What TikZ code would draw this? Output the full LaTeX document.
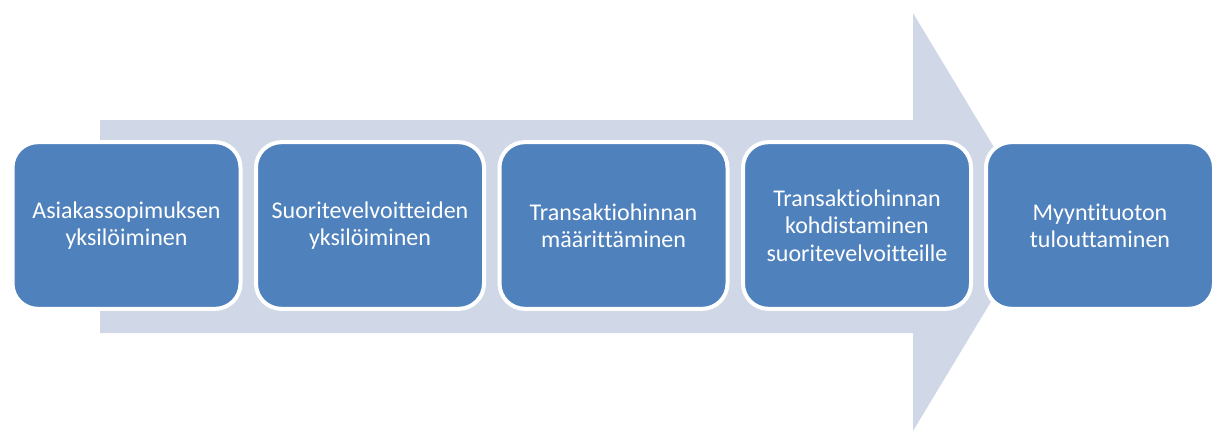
\documentclass[tikz,border=0pt]{standalone}
\usepackage{fontspec}
\setmainfont{Carlito}[Ligatures=NoCommon]
\definecolor{stepblue}{HTML}{4F81BD}
\definecolor{arrowgray}{HTML}{D0D8E8}
\tikzset{
	stepbox/.style={draw=white, line width=3pt, fill=stepblue, rounded corners=19pt,
		minimum width=171pt, minimum height=125pt, text=white, align=center,
		font=\fontsize{18}{20.5}\selectfont}
}

\begin{document}
\begin{tikzpicture}[x=0.75pt,y=-0.75pt]
	\useasboundingbox (0,0) rectangle (1215,432);
	\fill[arrowgray] (100,120) -- (913,120) -- (913,13) -- (1039,222) -- (913,431) -- (913,333) -- (100,333) -- cycle;
	
	\node[stepbox] (s1) at (126.5,225.5) {Asiakassopimuksen\\yksilöiminen};
	\node[stepbox] (s2) at (370,225.5) {Suoritevelvoitteiden\\yksilöiminen};
	\node[stepbox] (s3) at (613.5,225.5) {Transaktiohinnan\\määrittäminen};
	\node[stepbox] (s4) at (857,225.5) {Transaktiohinnan\\kohdistaminen\\suoritevelvoitteille};
	\node[stepbox] (s5) at (1100,225.5) {Myyntituoton\\tulouttaminen};
\end{tikzpicture}
\end{document}
